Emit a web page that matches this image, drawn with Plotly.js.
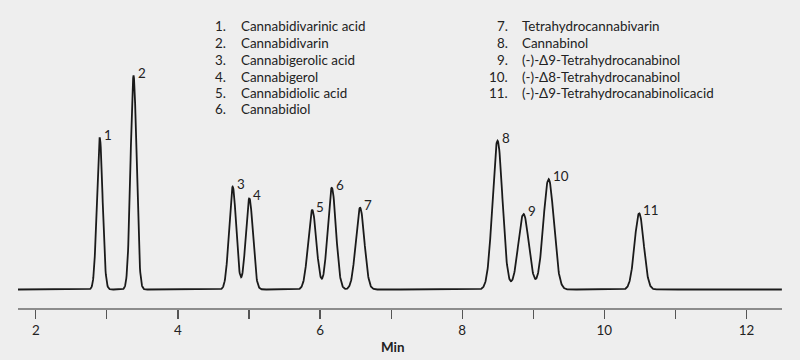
<!DOCTYPE html>
<html>
<head>
<meta charset="utf-8">
<script src="https://cdn.plot.ly/plotly-3.0.1.min.js"></script>
<style>
  html, body { margin: 0; padding: 0; background: #eeeeee; }
  #chart { width: 800px; height: 360px; }
</style>
</head>
<body>
<div id="chart"></div>
<script>
// Peak table of the cannabinoid separation (retention time in min, response, peak sigma in min)
const peakNumbers = [1, 2, 3, 4, 5, 6, 7, 8, 9, 10, 11];
const peakTimes   = [2.90, 3.376, 4.77, 5.005, 5.89, 6.165, 6.563, 8.497, 8.863, 9.216, 10.49];
const peakHeights = [151.5, 213.5, 102.8, 91.2, 79.5, 101.8, 81.8, 148.8, 75.5, 110.5, 76.2];
const peakSigmas  = [0.040, 0.042, 0.050, 0.050, 0.058, 0.058, 0.060, 0.070, 0.074, 0.074, 0.064];

const compoundNames = [
  'Cannabidivarinic acid',
  'Cannabidivarin',
  'Cannabigerolic acid',
  'Cannabigerol',
  'Cannabidiolic acid',
  'Cannabidiol',
  'Tetrahydrocannabivarin',
  'Cannabinol',
  '(-)-Δ9-Tetrahydrocanabinol',
  '(-)-Δ8-Tetrahydrocanabinol',
  '(-)-Δ9-Tetrahydrocanabinolicacid'
];

const xTickVals = [2, 4, 6, 8, 10, 12];
const xRange = [1.75, 12.5];

// Detector trace: sum of Gaussian peaks from the peak table
const tStep = 0.004;
const t = [], signal = [];
for (let x = xRange[0]; x <= xRange[1] + 1e-9; x += tStep) {
  let s = 0;
  for (let i = 0; i < peakTimes.length; i++) {
    const d = (x - peakTimes[i]) / peakSigmas[i];
    s += peakHeights[i] * Math.exp(-0.5 * d * d);
  }
  t.push(x);
  signal.push(s);
}

const W = 800, H = 360;
const margin = { l: 18, r: 18, t: 20, b: 52 };
const plotW = W - margin.l - margin.r, plotH = H - margin.t - margin.b;
const px2paperX = px => (px - margin.l) / plotW;
const px2paperY = py => (H - margin.b - py) / plotH;

const textFont = { family: 'Lato, "Open Sans", sans-serif', size: 13.4, color: '#222' };
const annotations = [];

// Peak number labels
peakNumbers.forEach((n, i) => {
  annotations.push({
    x: peakTimes[i], y: peakHeights[i], xref: 'x', yref: 'y',
    text: String(n), showarrow: false,
    xanchor: 'left', yanchor: 'middle', xshift: 2, yshift: 3,
    font: textFont
  });
});

// Compound list, two columns
const rowY = [26, 43, 60, 76.5, 93, 109.5];
compoundNames.forEach((name, i) => {
  const col = i < 6 ? 0 : 1;
  const row = col === 0 ? i : i - 6;
  const numRight = col === 0 ? 228 : 510;
  const nameLeft = col === 0 ? 239 : 520;
  annotations.push({
    x: px2paperX(numRight), y: px2paperY(rowY[row]), xref: 'paper', yref: 'paper',
    text: (i + 1) + '.', showarrow: false, xanchor: 'right', yanchor: 'middle',
    font: textFont
  });
  annotations.push({
    x: px2paperX(nameLeft), y: px2paperY(rowY[row]), xref: 'paper', yref: 'paper',
    text: name, showarrow: false, xanchor: 'left', yanchor: 'middle',
    font: textFont
  });
});

// Axis title
annotations.push({
  x: px2paperX(393), y: px2paperY(347), xref: 'paper', yref: 'paper',
  text: '<b>Min</b>', showarrow: false, xanchor: 'center', yanchor: 'middle',
  font: textFont
});

const trace = {
  x: t, y: signal, type: 'scatter', mode: 'lines',
  line: { color: '#1a1a1a', width: 1.8 },
  hoverinfo: 'skip'
};

const layout = {
  width: W, height: H,
  margin: margin,
  paper_bgcolor: '#eeeeee',
  plot_bgcolor: '#eeeeee',
  showlegend: false,
  xaxis: {
    range: xRange,
    tickvals: xTickVals,
    ticks: 'outside', ticklen: 9, tickwidth: 1.2, tickcolor: '#555',
    minor: { dtick: 1, tick0: 1, ticks: 'outside', ticklen: 9, tickwidth: 1.2, tickcolor: '#555', showgrid: false },
    showline: true, linecolor: '#8c8c8c', linewidth: 1.5,
    showgrid: false, zeroline: false,
    tickfont: textFont,
    fixedrange: true
  },
  yaxis: {
    range: [-18.5, 269.5],
    visible: false, showgrid: false, zeroline: false, fixedrange: true
  },
  annotations: annotations
};

Plotly.newPlot('chart', [trace], layout, { displayModeBar: false, staticPlot: true });
</script>
</body>
</html>
